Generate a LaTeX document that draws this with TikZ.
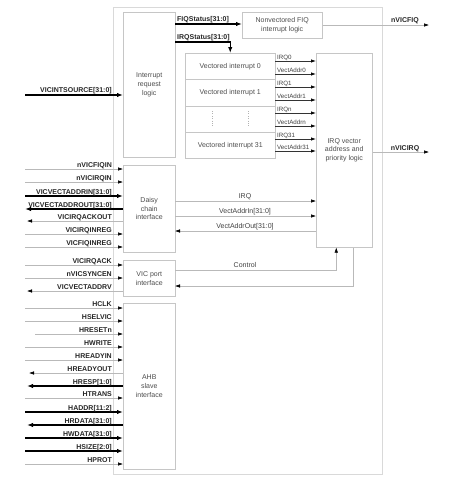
\documentclass[tikz,border=0pt]{standalone}
\usepackage{fontspec}
\setmainfont{Liberation Sans}
\usetikzlibrary{arrows.meta}

\tikzset{
  blk/.style={draw=gray!45, line width=0.5pt, anchor=north west, inner sep=0pt,
    align=center, text=black!70, font=\fontsize{7}{8.7}\selectfont},
  sigtip/.style={-{Latex[length=5pt,width=3.4pt,black]}},
  inwire/.style={draw=gray!55, line width=0.5pt, sigtip},
  outwire/.style={draw=gray!55, line width=0.5pt, {Latex[length=5pt,width=3.4pt,black]}-},
  inbus/.style={draw=black, line width=1.2pt, -{Latex[length=6pt,width=4.4pt]}},
  outbus/.style={draw=black, line width=1.2pt, {Latex[length=6pt,width=4.4pt]}-},
  vecwire/.style={draw=black!80, line width=0.7pt, sigtip},
  pin/.style={font=\fontsize{7}{8}\selectfont\bfseries, text=black!85, inner sep=0pt},
  sub/.style={font=\fontsize{6.2}{7}\selectfont, text=black!75, inner sep=0pt},
  mid/.style={font=\fontsize{7}{8}\selectfont, text=black!75, inner sep=0pt},
}

\begin{document}
\begin{tikzpicture}[x=1pt,y=-1pt]
\useasboundingbox (0,0) rectangle (456,480);

% blocks
\node[blk, draw=gray!30, minimum width=269pt, minimum height=467pt] (vic) at (113,7) {};
\node[blk, minimum width=52pt, minimum height=145pt] (irl) at (123,12) {Interrupt\\request\\logic};
\node[blk, minimum width=80pt, minimum height=26pt] (nfq) at (242,12) {Nonvectored FIQ\\interrupt logic};
\node[blk, minimum width=90pt, minimum height=26pt] (vec0) at (185,53) {Vectored interrupt 0};
\node[blk, minimum width=90pt, minimum height=27pt] (vec1) at (185,79) {Vectored interrupt 1};
\node[blk, minimum width=90pt, minimum height=26pt] (vecn) at (185,106) {};
\node[blk, minimum width=90pt, minimum height=26pt] (vec31) at (185,132) {Vectored interrupt 31};
\node[blk, minimum width=56pt, minimum height=194pt] (ivl) at (316,53) {IRQ vector\\address and\\priority logic};
\node[blk, minimum width=52pt, minimum height=87pt] (dci) at (123,165) {Daisy\\chain\\interface};
\node[blk, minimum width=52pt, minimum height=36pt] (vpi) at (123,260) {VIC port\\interface};
\node[blk, minimum width=52pt, minimum height=166pt] (ahb) at (123,303) {AHB\\slave\\interface};

% dots between the vectored interrupts
\draw[gray!60, dotted] ([xshift=-18pt,yshift=-5pt]vecn.north) -- ([xshift=-18pt,yshift=5pt]vecn.south);
\draw[gray!60, dotted] ([xshift=18pt,yshift=-5pt]vecn.north) -- ([xshift=18pt,yshift=5pt]vecn.south);

% status buses
\coordinate (fiqs) at (175,24);
\draw[inbus] (fiqs) -- (nfq.west |- fiqs);
\node[pin, anchor=base west] (fiqslbl) at (177,21.5) {FIQStatus[31:0]};
\coordinate (irqs) at (175,42);
\draw[inbus] (irqs) -| (vec0.north);
\node[pin, anchor=base west] (irqslbl) at (177,39.5) {IRQStatus[31:0]};

% vectored interrupt outputs
\foreach \y/\txt [count=\i] in {61/IRQ0,74/VectAddr0,87/IRQ1,100/VectAddr1,
                                113/IRQn,126/VectAddrn,139/IRQ31,151/VectAddr31}{
  \coordinate (vo\i) at (275,\y);
  \draw[vecwire] (vo\i) -- (ivl.west |- vo\i);
  \node[sub, anchor=base west] (vl\i) at (277,\y-2) {\txt};
}

% outputs on the right
\coordinate (fiqout) at (429,25);
\draw[inwire] (nfq.east |- fiqout) -- (fiqout);
\node[pin, anchor=base] (fiqlbl) at (405,22) {nVICFIQ};
\coordinate (irqout) at (429,152);
\draw[inwire] (ivl.east |- irqout) -- (irqout);
\node[pin, anchor=base] (irqlbl) at (405,150) {nVICIRQ};

% interrupt sources
\coordinate (src) at (25,95);
\draw[inbus] (src) -- (irl.west |- src);
\node[pin, anchor=base east] (srclbl) at (112,92.5) {VICINTSOURCE[31:0]};

% pins on the left
\foreach \y/\x/\txt/\kind/\blk in {
    169/25/nVICFIQIN/inwire/dci, 182/25/nVICIRQIN/inwire/dci,
    196/25/VICVECTADDRIN[31:0]/inbus/dci, 209/25/VICVECTADDROUT[31:0]/outbus/dci,
    221/27/VICIRQACKOUT/outwire/dci, 234/25/VICIRQINREG/inwire/dci,
    247/25/VICFIQINREG/inwire/dci,
    265/25/VICIRQACK/inwire/vpi, 278/25/nVICSYNCEN/inwire/vpi,
    291/27/VICVECTADDRV/outwire/vpi,
    308/25/HCLK/inwire/ahb, 321/25/HSELVIC/inwire/ahb, 334/35/HRESETn/inwire/ahb,
    347/25/HWRITE/inwire/ahb, 360/25/HREADYIN/inwire/ahb, 373/29/HREADYOUT/outwire/ahb,
    386/27/HRESP[1:0]/outbus/ahb, 398/25/HTRANS/inwire/ahb,
    412/25/HADDR[11:2]/inbus/ahb, 425/27/HRDATA[31:0]/outbus/ahb,
    438/25/HWDATA[31:0]/inbus/ahb, 451/25/HSIZE[2:0]/inbus/ahb,
    464/25/HPROT/inwire/ahb}{
  \coordinate (p\y) at (\x,\y);
  \draw[\kind] (p\y) -- (\blk.west |- p\y);
  \node[pin, anchor=base east] (l\y) at (112,\y-2) {\txt};
}

% daisy chain and port links
\coordinate (dirq) at (175,201);
\draw[inwire] (dirq) -- (ivl.west |- dirq);
\node[mid, anchor=base] (dirqlbl) at (245,198) {IRQ};
\coordinate (dvin) at (175,216);
\draw[inwire] (dvin) -- (ivl.west |- dvin);
\node[mid, anchor=base] (dvinlbl) at (245,213) {VectAddrIn[31:0]};
\coordinate (dvout) at (175,231);
\draw[outwire] (dvout) -- (ivl.west |- dvout);
\node[mid, anchor=base] (dvoutlbl) at (245,228) {VectAddrOut[31:0]};
\coordinate (ctl) at (175,270);
\draw[inwire] (ctl) -| ([xshift=-8pt]ivl.south);
\node[mid, anchor=base] (ctllbl) at (245,267) {Control};
\coordinate (ret) at (175,286);
\draw[outwire] (ret) -| ([xshift=9pt]ivl.south);
\end{tikzpicture}
\end{document}
